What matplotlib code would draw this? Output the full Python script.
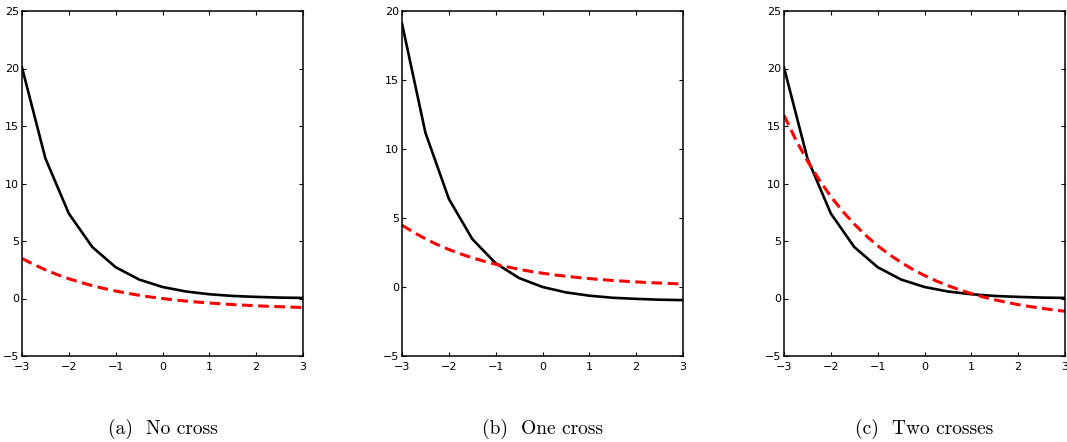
import matplotlib
matplotlib.use('Agg')
import matplotlib.pyplot as plt

# sample grid of the piecewise-linear (black) curves
x_coarse = [-3, -2.5, -2, -1.5, -1, -0.5, 0, 0.5, 1, 1.5, 2, 2.5, 3]
# finer grid for the smooth dashed curves
x_fine = [-3, -2.75, -2.5, -2.25, -2, -1.75, -1.5, -1.25, -1, -0.75, -0.5, -0.25,
          0, 0.25, 0.5, 0.75, 1, 1.25, 1.5, 1.75, 2, 2.25, 2.5, 2.75, 3]

black_a = [20.09, 12.18, 7.39, 4.48, 2.72, 1.65, 1.00, 0.61, 0.37, 0.22, 0.14, 0.08, 0.05]
black_b = [19.09, 11.18, 6.39, 3.48, 1.72, 0.65, 0.00, -0.39, -0.63, -0.78, -0.86, -0.92, -0.95]
black_c = [20.09, 12.18, 7.39, 4.48, 2.72, 1.65, 1.00, 0.61, 0.37, 0.22, 0.14, 0.08, 0.05]

red_a = [3.48, 2.96, 2.49, 2.08, 1.72, 1.40, 1.12, 0.87, 0.65, 0.46, 0.28, 0.13, 0.00,
         -0.12, -0.22, -0.31, -0.39, -0.46, -0.53, -0.58, -0.63, -0.68, -0.71, -0.75, -0.78]
red_b = [4.48, 3.96, 3.49, 3.08, 2.72, 2.40, 2.12, 1.87, 1.65, 1.46, 1.28, 1.13, 1.00,
         0.88, 0.78, 0.69, 0.61, 0.54, 0.47, 0.42, 0.37, 0.32, 0.29, 0.25, 0.22]
red_c = [15.93, 13.82, 11.96, 10.32, 8.87, 7.60, 6.47, 5.47, 4.59, 3.82, 3.14, 2.53, 2.00,
         1.53, 1.12, 0.75, 0.43, 0.14, -0.11, -0.33, -0.53, -0.70, -0.85, -0.99, -1.11]

captions = ['(a)  No cross', '(b)  One cross', '(c)  Two crosses']
ylims = [(-5, 25), (-5, 20), (-5, 25)]
x_ticks = [-3, -2, -1, 0, 1, 2, 3]

plt.rcParams['font.family'] = ['Liberation Sans Narrow', 'DejaVu Sans']
plt.rcParams['axes.unicode_minus'] = True

fig = plt.figure(figsize=(10.67, 4.42), dpi=100)
lefts = [22 / 1067, 402 / 1067, 784 / 1067]
width = 281 / 1067
bottom = (442 - 356) / 442
height = 345 / 442

panels = [(black_a, red_a), (black_b, red_b), (black_c, red_c)]
for i, (blk, red) in enumerate(panels):
    ax = fig.add_axes([lefts[i], bottom, width, height])
    ax.plot(x_coarse, blk, color='black', lw=1.9)
    ln, = ax.plot(x_fine, red, color='red', lw=2.2)
    ln.set_dashes((3.5, 1.8))
    ax.set_xlim(-3, 3)
    ax.set_ylim(*ylims[i])
    ax.set_xticks(x_ticks)
    ax.set_yticks(range(ylims[i][0], ylims[i][1] + 1, 5))
    ax.tick_params(direction='in', top=True, right=True, length=3, width=0.8,
                   labelsize=8)
    ax.tick_params(axis='x', pad=4)
    ax.tick_params(axis='y', pad=2)
    for sp in ax.spines.values():
        sp.set_linewidth(1.1)
    cx = lefts[i] + width / 2
    fig.text(cx, 1 - 429 / 442, captions[i], ha='center', va='center',
             family='cmr10', fontsize=14)

fig.savefig('out.png', dpi=100)
